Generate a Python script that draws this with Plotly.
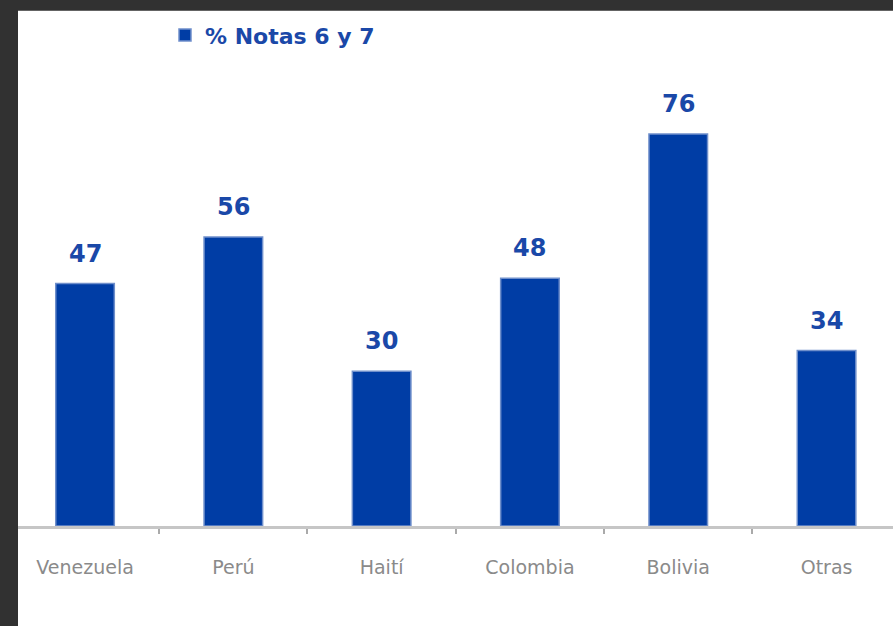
import plotly.graph_objects as go

# --- Data ---
paises = ['Venezuela', 'Perú', 'Haití', 'Colombia', 'Bolivia', 'Otras']
notas_6_7 = [47, 56, 30, 48, 76, 34]
serie = '% Notas 6 y 7'

COLORS = {
    'bar': '#003DA5',
    'bar_edge': '#6F8FCB',
    'label': '#1A48A8',
    'axis': '#C6C6C6',
    'tick_text': '#8A8A8A',
    'frame': '#313131',
}

FONT = 'DejaVu Sans, Verdana, sans-serif'

fig = go.Figure()

fig.add_trace(go.Bar(
    x=paises,
    y=notas_6_7,
    name=serie,
    width=0.395,
    marker=dict(color=COLORS['bar'], line=dict(color=COLORS['bar_edge'], width=1.5)),
    showlegend=True,
))

# value labels above the bars
for p, v in zip(paises, notas_6_7):
    fig.add_annotation(
        x=p, y=v, text=f'<b>{v}</b>', showarrow=False,
        yanchor='bottom', yshift=14,
        font=dict(family=FONT, size=24, color=COLORS['label']),
    )

# white card over the dark frame
fig.add_shape(
    type='rect', xref='paper', yref='paper',
    x0=0, x1=1.01, y0=-0.21, y1=1.06,
    fillcolor='white', line_width=0, layer='below',
)

fig.update_layout(
    width=893, height=626,
    margin=dict(l=18, r=0, t=40, b=100, autoexpand=False),
    paper_bgcolor=COLORS['frame'],
    plot_bgcolor='rgba(0,0,0,0)',
    font=dict(family=FONT, color=COLORS['tick_text']),
    legend=dict(
        orientation='h', x=0.168, y=1.01, xanchor='left', yanchor='middle',
        bgcolor='rgba(0,0,0,0)',
        font=dict(family=FONT, size=22, color=COLORS['label'], weight='bold'),
    ),
    xaxis=dict(
        type='category',
        range=[-0.452, 5.448],
        showline=True, linecolor=COLORS['axis'], linewidth=3,
        ticks='outside', tickson='boundaries', ticklen=5, tickcolor='#AAAAAA', tickwidth=2,
        ticklabelstandoff=22,
        tickfont=dict(family=FONT, size=19, color=COLORS['tick_text']),
        showgrid=False, zeroline=False,
    ),
    yaxis=dict(
        range=[0, 94.2], visible=False, showgrid=False, zeroline=False,
    ),
)

fig.write_html(
    'out.html',
    config={'displayModeBar': False},
    post_script="document.body.style.margin='0';",
)
